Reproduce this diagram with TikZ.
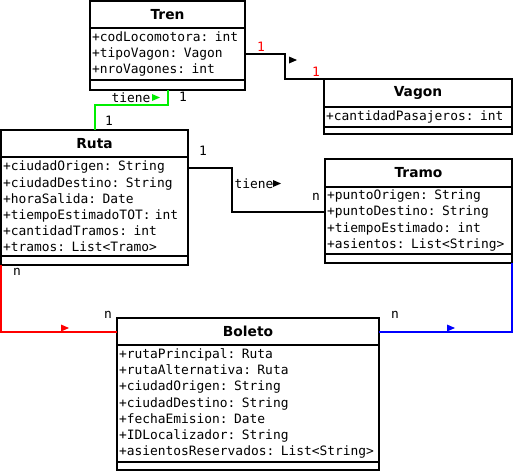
\documentclass[tikz,border=0pt]{standalone}
\usepackage{fontspec}
\setmainfont{DejaVu Sans}
\setmonofont{DejaVu Sans Mono}
\usetikzlibrary{positioning,calc}
\definecolor{lnkRed}{HTML}{FF0000}
\definecolor{lnkGreen}{HTML}{00EE00}
\definecolor{lnkBlue}{HTML}{0000FF}

\begin{document}
\begin{tikzpicture}[
  x=1pt, y=-1pt,
  head/.style={draw, line width=2pt, inner sep=0pt, outer sep=0pt, font=\bfseries\fontsize{13.8}{14}\selectfont},
  body/.style={draw, line width=2pt, inner xsep=2pt, inner ysep=0pt, outer sep=0pt, align=left, font=\ttfamily\fontsize{12.9}{16.2}\selectfont},
  foot/.style={draw, line width=2pt, inner sep=0pt, outer sep=0pt},
  link/.style={line width=2pt},
  mult/.style={font=\ttfamily\fontsize{12.9}{13}\selectfont, inner sep=0pt},
  tri/.pic={\fill (-4,-3.5) -- (4,0) -- (-4,3.5) -- cycle;}
]
  \useasboundingbox (0,0) rectangle (524,472);

  % Tren
  \node[head, minimum width=155pt, minimum height=27pt, anchor=north west] (tren) at (90,1) {Tren};
  \node[body, text width=151pt, minimum height=52pt, below=0pt of tren] (trenA) {+codLocomotora: int\\+tipoVagon: Vagon\\+nroVagones: int};
  \node[foot, minimum width=155pt, minimum height=10pt, below=0pt of trenA] (trenF) {};

  % Vagon
  \node[head, minimum width=188pt, minimum height=28pt, anchor=north west] (vagon) at (324,79) {Vagon};
  \node[body, text width=184pt, minimum height=20pt, below=0pt of vagon] (vagonA) {+cantidadPasajeros: int};
  \node[foot, minimum width=188pt, minimum height=7pt, below=0pt of vagonA] (vagonF) {};

  % Ruta
  \node[head, minimum width=187pt, minimum height=27pt, anchor=north west] (ruta) at (1,130) {Ruta};
  \node[body, text width=183pt, minimum height=99pt, below=0pt of ruta] (rutaA) {+ciudadOrigen: String\\+ciudadDestino: String\\+horaSalida: Date\\+tiempoEstimadoTOT: int\\+cantidadTramos: int\\+tramos: List<Tramo>};
  \node[foot, minimum width=187pt, minimum height=9pt, below=0pt of rutaA] (rutaF) {};

  % Tramo
  \node[head, minimum width=187pt, minimum height=28pt, anchor=north west] (tramo) at (325,159) {Tramo};
  \node[body, text width=183pt, minimum height=67pt, below=0pt of tramo] (tramoA) {+puntoOrigen: String\\+puntoDestino: String\\+tiempoEstimado: int\\+asientos: List<String>};
  \node[foot, minimum width=187pt, minimum height=9pt, below=0pt of tramoA] (tramoF) {};

  % Boleto
  \node[head, minimum width=262pt, minimum height=27pt, anchor=north west] (boleto) at (117,318) {Boleto};
  \node[body, text width=258pt, minimum height=117pt, below=0pt of boleto] (boletoA) {+rutaPrincipal: Ruta\\+rutaAlternativa: Ruta\\+ciudadOrigen: String\\+ciudadDestino: String\\+fechaEmision: Date\\+IDLocalizador: String\\+asientosReservados: List<String>};
  \node[foot, minimum width=262pt, minimum height=8pt, below=0pt of boletoA] (boletoF) {};

  % relaciones
  \coordinate (rutaOut) at ($(rutaA.north east)+(0,11)$);
  \coordinate (tramoIn) at ($(tramoA.north west)+(0,25)$);

  \draw[link] (trenA.east) -- ++(40,0) |- (vagon.north west);
  \draw[link, lnkGreen] (trenF.south) -- ++(0,15) -| (ruta.north);
  \draw[link] (rutaOut) -- ++(44,0) |- (tramoIn);
  \draw[link, lnkRed] (rutaF.south west) |- (boleto.west);
  \draw[link, lnkBlue] (tramoF.south east) |- (boleto.east);

  \pic[black] at (293,60) {tri};
  \pic[lnkRed] at (65,328) {tri};
  \pic[lnkBlue] at (451,328) {tri};

  \node[mult, text=lnkRed] (m1) at (261,47) {1};
  \node[mult, text=lnkRed] (m2) at (316,72) {1};
  \node[mult] (tieneA) at (131,98) {tiene};
  \pic[lnkGreen] at (156,97.5) {tri};
  \node[mult] (m3) at (183,97) {1};
  \node[mult] (m4) at (109,121) {1};
  \node[mult] (m5) at (203,151) {1};
  \node[mult] (tieneB) at (254,184) {tiene};
  \pic[black] at (277,183.5) {tri};
  \node[mult] (m6) at (316,197) {n};
  \node[mult] (m7) at (17,272) {n};
  \node[mult] (m8) at (108,315) {n};
  \node[mult] (m9) at (395,315) {n};
\end{tikzpicture}
\end{document}
